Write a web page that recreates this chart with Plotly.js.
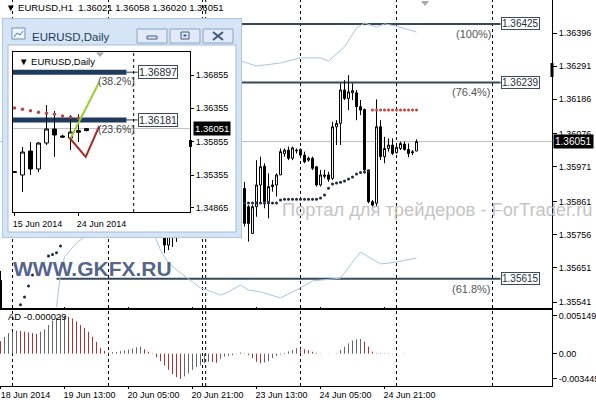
<!DOCTYPE html>
<html><head><meta charset="utf-8">
<script src="https://cdn.plot.ly/plotly-3.0.1.min.js"></script>
<style>html,body{margin:0;padding:0;background:#fff;}#chart{width:596px;height:400px;}</style>
</head><body><div id="chart"></div>
<script>
// ===== EURUSD H1 (bar index: 0 = 19 Jun 2014 00:00, one bar per hour, weekend skipped) =====
const h1Bar = [-3,38,39,40,41,58,59,60,61,62,63,64,65,66,67,68,69,70,71,72,73,74,75,76,77,78,79,80,81,82,83,84,85,86,87,88,89,90,91,92,93,94,95,96,97,98,99,100,101];
const h1Open  = [1.35610,1.35850,1.35722,1.35800,1.35760,1.35902,1.35844,1.35759,1.35844,1.35913,1.35973,1.35860,1.35908,1.35913,1.35945,1.36013,1.36024,1.35998,1.36024,1.36026,1.36008,1.35992,1.35998,1.35971,1.35913,1.35945,1.35945,1.35934,1.36098,1.36109,1.36215,1.36188,1.36206,1.36206,1.36162,1.36153,1.35961,1.35860,1.35855,1.36098,1.36003,1.36029,1.36040,1.36016,1.36029,1.36043,1.36026,1.36019,1.36021];
const h1High  = [1.35640,1.35900,1.35820,1.35880,1.35900,1.35923,1.35849,1.35849,1.35992,1.36003,1.35982,1.35950,1.35929,1.35950,1.36029,1.36029,1.36035,1.36035,1.36029,1.36029,1.36019,1.36003,1.36003,1.35973,1.35961,1.35961,1.35955,1.36114,1.36119,1.36236,1.36246,1.36262,1.36236,1.36215,1.36183,1.36156,1.35961,1.35865,1.36185,1.36119,1.36066,1.36061,1.36061,1.36040,1.36051,1.36051,1.36045,1.36024,1.36058];
const h1Low   = [1.35500,1.35697,1.35706,1.35716,1.35732,1.35781,1.35733,1.35759,1.35812,1.35855,1.35839,1.35807,1.35892,1.35876,1.35945,1.36003,1.35992,1.35992,1.36013,1.36003,1.35982,1.35987,1.35961,1.35908,1.35908,1.35934,1.35923,1.35929,1.36040,1.36040,1.36183,1.36151,1.36183,1.36119,1.36135,1.35950,1.35855,1.35844,1.35844,1.35992,1.35982,1.36019,1.36008,1.36013,1.36024,1.36022,1.36001,1.36008,1.36020];
const h1Close = [1.35515,1.35722,1.35800,1.35760,1.35880,1.35791,1.35791,1.35844,1.35913,1.35971,1.35860,1.35908,1.35913,1.35945,1.36019,1.36024,1.35998,1.36031,1.36022,1.36008,1.35987,1.35998,1.35966,1.35913,1.35945,1.35941,1.35931,1.36098,1.36109,1.36215,1.36188,1.36209,1.36213,1.36162,1.36151,1.35961,1.35860,1.35849,1.36098,1.36003,1.36029,1.36040,1.36013,1.36033,1.36045,1.36026,1.36013,1.36016,1.36051];

const sarUpBar = [2,3,4,5,9,10,11,12,58,59,60,61,62,63,64,65,66,67,68,69,70,71,72,73,74,75,76,77,78,79,80,81,82,83,84,85,86,87,88,89];
const sarUpVal = [1.35532,1.35557,1.35592,1.35627,1.35687,1.35692,1.35698,1.35719,1.35856,1.35856,1.35856,1.35856,1.35856,1.35856,1.35856,1.35856,1.35856,1.35865,1.35868,1.35868,1.35868,1.35868,1.35868,1.35868,1.35868,1.35868,1.35868,1.35872,1.35881,1.35903,1.35916,1.35919,1.35922,1.35926,1.35932,1.35938,1.35948,1.35953,1.35954,1.35956];
const sarDnBar = [90,91,92,93,94,95,96,97,98,99,100,101];
const sarDnVal = [1.36151,1.36151,1.36151,1.36151,1.36151,1.36151,1.36151,1.36151,1.36151,1.36151,1.36151,1.36151];

const bandLowBar = [11,12,13,16,19,21,null,35,37,39,42,45,47,50,52,54,57,59,62,67,72,75,82,87,92,96,101];
const bandLow    = [1.35525,1.35630,1.35684,1.35729,1.35757,1.35770,null,1.35770,1.35706,1.35665,1.35633,1.35605,1.35586,1.35573,1.35563,1.35573,1.35595,1.35579,1.35573,1.35554,1.35586,1.35608,1.35617,1.35700,1.35662,1.35668,1.35681];
const bandUpBar = [54,61,67,72,77,79,83,86,88,91,93,96,101];
const bandUp    = [1.36320,1.36291,1.36301,1.36317,1.36317,1.36307,1.36352,1.36412,1.36428,1.36415,1.36425,1.36418,1.36399];

const fibLevels = [1.36425,1.36239,1.35615];
const fibLabels = ['1.36425','1.36239','1.35615'];
const fibNames  = ['(100%)','(76.4%)','(61.8%)'];
const fibFromBar = 11, fibToBar = 122;

const daySepBar = [0,24,47.5,48.3,72,96,120];
const lastPrice = 1.36051;
const h1TickBar  = [-3,13,29,45,61,77,93];
const h1TickText = ['18 Jun 2014','19 Jun 13:00','20 Jun 05:00','20 Jun 21:00','23 Jun 13:00','24 Jun 05:00','24 Jun 21:00'];
const priceTicks = [1.36396,1.36291,1.36186,1.36076,1.35971,1.35861,1.35756,1.35651,1.35541];

// Accelerator/Decelerator (AD) histogram, bars from index -3
const adValues = [0.00170,0.00230,0.00280,0.00300,0.00315,0.00310,0.00300,0.00290,0.00280,0.00270,
 0.00300,0.00330,0.00390,0.00450,0.00490,0.00510,0.005149,0.00505,0.00480,0.00440,
 0.00390,0.00350,0.00300,0.00230,0.00160,0.00080,0.00040,0.00015,0.00020,0.00025,
 0.00035,0.00045,0.00055,0.00070,0.00085,0.00095,0.00060,0.00025,-0.00005,-0.00050,
 -0.00100,-0.00160,-0.00220,-0.00280,-0.00320,-0.003445,-0.00310,-0.00270,-0.00220,-0.00180,
 -0.00160,-0.00130,-0.00110,-0.00115,-0.00125,-0.00070,-0.00040,-0.00030,-0.00020,-0.00005,
 0.00015,0.00005,-0.00020,-0.00060,-0.00110,-0.00130,-0.00120,-0.00100,-0.00060,-0.00030,
 -0.00010,0.00010,0.00030,0.00050,0.00076,0.00072,0.00060,0.00048,0.00027,0.00008,
 0.00004,0.00002,0.00003,0.00001,0.00005,0.00050,0.00095,0.00140,0.00177,0.00196,
 0.00200,0.00164,0.00096,0.00027,0.00005,0.00008,0.00004,0.00006,0.00003,0.00005,
 0.00002,0.00004];
const adFirstBar = -3;
const adTicks = [0.005149,0,-0.003445];
const adTickText = ['0.005149','0.00','-0.003445'];

// ===== EURUSD Daily inset (bar 0 = 15 Jun 2014) =====
const dBar   = [0,1,2,3,4,5,6,7,8,9];
const dOpen  = [1.35405,1.35355,1.35715,1.35445,1.35835,1.36045,1.35940,1.35910,1.35995,1.36021];
const dHigh  = [1.35415,1.35775,1.35850,1.35850,1.36405,1.36315,1.35960,1.36255,1.36265,1.36058];
const dLow   = [1.35390,1.35100,1.35355,1.35400,1.35805,1.35625,1.35910,1.35730,1.35850,1.36010];
const dClose = [1.35395,1.35700,1.35445,1.35835,1.36045,1.35955,1.35925,1.36000,1.36021,1.36051];
const dSarBar = [0,1,2,3,4,5,6,7,8];
const dSarVal = [1.36360,1.36340,1.36320,1.36295,1.36280,1.36265,1.36240,1.36220,1.36205];
const dFibLevels = [1.36897,1.36181];
const dFibLabels = ['1.36897','1.36181'];
const dFibNames  = ['(38.2%)','(23.6%)'];
const dFibFromBar = -3, dFibToBar = 14;
const dGreenBar = [6.9,10.6], dGreenVal = [1.35880,1.36750];
const dRedBar = [6.9,8.9,10.6], dRedVal = [1.35910,1.35625,1.36090];
const dSepBar = [14.9];
const dTickBar = [0,8], dTickText = ['15 Jun 2014','24 Jun 2014'];
const dPriceTicks = [1.36855,1.36355,1.35855,1.35355,1.34865];

// ===== layout geometry =====
const PW = 552, PH = 386;
const px = x => x / PW, py = y => (PH - y) / PH;
const F = 'Liberation Sans, Arial, sans-serif';
const mainXRange = [-3.125, 134.875];
const mainYRange = [1.35522, 1.36501];
const adRange = [-0.00441, 0.00596];
const dXRange = [-0.1875, 21.9375];
const dYRange = [1.34800, 1.37200];

// AD histogram as 1px sticks: grey when rising, red when falling
function adSticks(rising) {
  const x = [], y = [];
  adValues.forEach((v, k) => {
    const up = k > 0 && v > adValues[k-1];
    if (up === rising) { x.push(adFirstBar + k, adFirstBar + k, null); y.push(0, v, null); }
  });
  return {x, y};
}
const adUp = adSticks(true), adDn = adSticks(false);

const traces = [
  {type:'candlestick', x:h1Bar, open:h1Open, high:h1High, low:h1Low, close:h1Close, xaxis:'x', yaxis:'y',
   increasing:{line:{color:'#000',width:1}, fillcolor:'#fff'}, decreasing:{line:{color:'#000',width:1}, fillcolor:'#000'},
   whiskerwidth:0, hoverinfo:'skip', showlegend:false},
  {type:'scatter', mode:'lines', x:bandLowBar, y:bandLow, line:{color:'#a9c6de', width:1}, connectgaps:false, xaxis:'x', yaxis:'y', hoverinfo:'skip', showlegend:false},
  {type:'scatter', mode:'lines', x:bandUpBar, y:bandUp, line:{color:'#a9c6de', width:1}, xaxis:'x', yaxis:'y', hoverinfo:'skip', showlegend:false},
  {type:'scatter', mode:'markers', x:sarUpBar, y:sarUpVal, marker:{color:'#1c2740', size:3}, xaxis:'x', yaxis:'y', hoverinfo:'skip', showlegend:false},
  {type:'scatter', mode:'markers', x:sarDnBar, y:sarDnVal, marker:{color:'#d23a3a', size:3}, xaxis:'x', yaxis:'y', hoverinfo:'skip', showlegend:false},
  {type:'scatter', mode:'lines', x:adUp.x, y:adUp.y, line:{color:'#5f6670', width:1}, connectgaps:false, xaxis:'x', yaxis:'y4', hoverinfo:'skip', showlegend:false},
  {type:'scatter', mode:'lines', x:adDn.x, y:adDn.y, line:{color:'#b23030', width:1}, connectgaps:false, xaxis:'x', yaxis:'y4', hoverinfo:'skip', showlegend:false},
  {type:'scatter', x:[null], y:[null], xaxis:'x2', yaxis:'y2', hoverinfo:'skip', showlegend:false},
  {type:'candlestick', x:dBar, open:dOpen, high:dHigh, low:dLow, close:dClose, xaxis:'x3', yaxis:'y3',
   increasing:{line:{color:'#000',width:1}, fillcolor:'#fff'}, decreasing:{line:{color:'#000',width:1}, fillcolor:'#000'},
   whiskerwidth:0, hoverinfo:'skip', showlegend:false},
  {type:'scatter', mode:'markers', x:dSarBar, y:dSarVal, marker:{color:'#b04848', size:3.5}, xaxis:'x3', yaxis:'y3', hoverinfo:'skip', showlegend:false},
  {type:'scatter', mode:'lines', x:dGreenBar, y:dGreenVal, line:{color:'#9acd32', width:2}, xaxis:'x3', yaxis:'y3', hoverinfo:'skip', showlegend:false},
  {type:'scatter', mode:'lines', x:dRedBar, y:dRedVal, line:{color:'#a52a2a', width:2}, xaxis:'x3', yaxis:'y3', hoverinfo:'skip', showlegend:false}
];

const shapes = [];
daySepBar.forEach(b => shapes.push({type:'line', xref:'x', yref:'paper', x0:b, x1:b, y0:0, y1:1, line:{color:'#000', width:1, dash:'3px,3px'}, layer:'below'}));
shapes.push({type:'line', xref:'x', yref:'y', x0:mainXRange[0], x1:mainXRange[1], y0:lastPrice, y1:lastPrice, line:{color:'#bdbdbd', width:1}, layer:'below'});
fibLevels.forEach(v => shapes.push({type:'line', xref:'x', yref:'y', x0:fibFromBar, x1:fibToBar, y0:v, y1:v, line:{color:'#33495a', width:2}, layer:'below'}));
shapes.push({type:'path', xref:'paper', yref:'paper', path:`M${px(421)},${py(1)} L${px(429)},${py(1)} L${px(425)},${py(6)} Z`, fillcolor:'#a8a8a8', line:{width:0}, layer:'above'});
shapes.push({type:'rect', xref:'paper', yref:'paper', x0:px(550.5), x1:px(553.5), y0:py(77), y1:py(63), fillcolor:'#000', line:{width:0}, layer:'above'});

// ---- daily window frame (x2/y2 are pixel coordinates of the window) ----
const win = [
  {type:'rect', x0:2, x1:242, y0:18, y1:238, fillcolor:'#d5e5f6', line:{color:'#8aa6c8', width:1}},
  {type:'rect', x0:8, x1:236, y0:45, y1:232, fillcolor:'#ffffff', line:{color:'#a4bbd4', width:1}},
  {type:'rect', x0:12, x1:25, y0:28, y1:39, fillcolor:'#f1f6fc', line:{color:'#6f8fb5', width:1}},
  {type:'path', path:'M14,37 L17,33 L20,35 L23,31', line:{color:'#3f74b0', width:1}},
  {type:'rect', x0:137, x1:167, y0:29, y1:43, fillcolor:'#e1ebf7', line:{color:'#8aa3c3', width:1}},
  {type:'rect', x0:170, x1:200, y0:29, y1:43, fillcolor:'#e1ebf7', line:{color:'#8aa3c3', width:1}},
  {type:'rect', x0:203, x1:233, y0:29, y1:43, fillcolor:'#e1ebf7', line:{color:'#8aa3c3', width:1}},
  {type:'rect', x0:147, x1:157, y0:36, y1:39, fillcolor:'rgba(0,0,0,0)', line:{color:'#3f5a80', width:1}},
  {type:'rect', x0:181, x1:189, y0:32, y1:39, fillcolor:'rgba(0,0,0,0)', line:{color:'#3f5a80', width:1}},
  {type:'rect', x0:183.5, x1:186.5, y0:34.5, y1:36.5, fillcolor:'#3f5a80', line:{width:0}},
  {type:'path', path:'M213,32 L223,40 M223,32 L213,40', line:{color:'#3f5a80', width:2}}
];
win.forEach(s => shapes.push(Object.assign({xref:'x2', yref:'y2', layer:'below'}, s)));
dFibLevels.forEach(v => shapes.push({type:'line', xref:'x3', yref:'y3', x0:dFibFromBar, x1:dFibToBar, y0:v, y1:v, line:{color:'#1e3a5c', width:5}, layer:'below'}));
dFibLevels.forEach(v => shapes.push({type:'line', xref:'x3', yref:'y3', x0:dFibToBar, x1:dFibToBar+1.4, y0:v, y1:v, line:{color:'#1e3a5c', width:1}, layer:'below'}));
shapes.push({type:'line', xref:'x3', yref:'y3', x0:dXRange[0], x1:dXRange[1], y0:lastPrice, y1:lastPrice, line:{color:'#bdbdbd', width:1}, layer:'below'});
dSepBar.forEach(b => shapes.push({type:'line', xref:'x3', yref:'y3 domain', x0:b, x1:b, y0:0, y1:1, line:{color:'#000', width:1, dash:'3px,3px'}, layer:'above'}));
shapes.push({type:'path', xref:'x2', yref:'y2', path:'M96,52.5 L104,52.5 L100,57 Z', fillcolor:'#a8a8a8', line:{width:0}, layer:'above'});
shapes.push({type:'rect', xref:'x2', yref:'y2', x0:189, x1:192, y0:140, y1:147, fillcolor:'#000', line:{width:0}, layer:'above'});

const ann = [];
ann.push({xref:'paper', yref:'paper', x:px(4), y:py(8), xanchor:'left', yanchor:'middle', showarrow:false,
  text:'▼ EURUSD,H1\u00a0\u00a01.36021 1.36058 1.36020 1.36051', font:{family:F, size:9.5, color:'#000'}});
ann.push({xref:'paper', yref:'paper', x:px(6), y:py(316), xanchor:'left', yanchor:'middle', showarrow:false,
  text:'AD -0.000029', font:{family:F, size:9.5, color:'#000'}});
fibLevels.forEach((v,i) => {
  ann.push({xref:'x', yref:'y', x:fibToBar, y:v, xanchor:'left', yanchor:'middle', showarrow:false, text:fibLabels[i],
    font:{family:F, size:10, color:'#1e2e3c'}, bgcolor:'#fff', bordercolor:'#3c4c5c', borderwidth:1, borderpad:0});
  ann.push({xref:'x', yref:'y', x:fibToBar-2, y:v, xanchor:'right', yanchor:'top', yshift:-2, showarrow:false, text:fibNames[i],
    font:{family:F, size:11, color:'#555'}});
});
ann.push({xref:'paper', yref:'y', x:1, y:lastPrice, xanchor:'left', yanchor:'middle', xshift:1, showarrow:false, text:'1.36051',
  font:{family:F, size:10, color:'#fff'}, bgcolor:'#000', borderpad:1});
ann.push({xref:'paper', yref:'paper', x:px(280), y:py(210), xanchor:'left', yanchor:'middle', showarrow:false,
  text:'Портал для трейдеров - ForTrader.ru', font:{family:F, size:18.3, color:'#c4c4c4'}});
ann.push({xref:'paper', yref:'paper', x:px(11), y:py(268), xanchor:'left', yanchor:'middle', showarrow:false,
  text:'<b>WWW.GKFX.RU</b>', font:{family:F, size:21, color:'rgba(52,72,120,0.85)'}});
ann.push({xref:'x2', yref:'y2', x:30, y:37, xanchor:'left', yanchor:'middle', showarrow:false, text:'EURUSD,Daily', font:{family:F, size:11.5, color:'#1e3a5a'}});
ann.push({xref:'x2', yref:'y2', x:17, y:61, xanchor:'left', yanchor:'middle', showarrow:false, text:'▼ EURUSD,Daily', font:{family:F, size:9.5, color:'#000'}});
dFibLevels.forEach((v,i) => {
  ann.push({xref:'x3', yref:'y3', x:dFibToBar+1.4, y:v, xanchor:'left', yanchor:'middle', showarrow:false, text:dFibLabels[i],
    font:{family:F, size:10.5, color:'#1e2e3c'}, bgcolor:'#fff', bordercolor:'#3c4c5c', borderwidth:1, borderpad:0});
  ann.push({xref:'x3', yref:'y3', x:dFibToBar+1.3, y:v, xanchor:'right', yanchor:'top', yshift:-1, showarrow:false, text:dFibNames[i],
    font:{family:F, size:10.5, color:'#444'}});
});
ann.push({xref:'x3 domain', yref:'y3', x:1, y:lastPrice, xanchor:'left', yanchor:'middle', xshift:3, showarrow:false, text:'1.36051',
  font:{family:F, size:9.5, color:'#fff'}, bgcolor:'#000', borderpad:1});

const axBase = {showgrid:false, zeroline:false, fixedrange:true};
const layout = {
  width:596, height:400, margin:{l:0, r:44, t:0, b:14},
  paper_bgcolor:'#fff', plot_bgcolor:'#fff', showlegend:false, dragmode:false,
  xaxis: Object.assign({}, axBase, {domain:[0,1], range:mainXRange, anchor:'y4', rangeslider:{visible:false},
    tickmode:'array', tickvals:h1TickBar, ticktext:h1TickText, ticks:'outside', ticklen:2, tickcolor:'#000',
    ticklabelshift:25, ticklabelstandoff:-2, tickfont:{family:F, size:9, color:'#000'}, showline:true, mirror:'all', linecolor:'#000', linewidth:1}),
  yaxis: Object.assign({}, axBase, {domain:[py(308),1], range:mainYRange, anchor:'x', side:'right',
    tickmode:'array', tickvals:priceTicks, ticktext:priceTicks.map(v=>v.toFixed(5)), ticks:'outside', ticklen:4, tickcolor:'#000',
    tickfont:{family:F, size:9, color:'#000'}, showline:true, mirror:true, linecolor:'#000', linewidth:1}),
  yaxis4: Object.assign({}, axBase, {domain:[0,py(310)], range:adRange, anchor:'x', side:'right',
    tickmode:'array', tickvals:adTicks, ticktext:adTickText, ticks:'outside', ticklen:4, tickcolor:'#000',
    tickfont:{family:F, size:9, color:'#000'}, showline:true, mirror:true, linecolor:'#000', linewidth:1}),
  xaxis2: Object.assign({}, axBase, {domain:[px(2),px(242)], range:[2,242], anchor:'y2', visible:false}),
  yaxis2: Object.assign({}, axBase, {domain:[py(238),py(18)], range:[238,18], anchor:'x2', visible:false}),
  xaxis3: Object.assign({}, axBase, {domain:[px(13),px(190)], range:dXRange, anchor:'y3', rangeslider:{visible:false},
    tickmode:'array', tickvals:dTickBar, ticktext:dTickText, ticks:'outside', ticklen:3, tickcolor:'#000',
    ticklabelshift:23, tickfont:{family:F, size:9, color:'#000'}, showline:true, mirror:true, linecolor:'#000', linewidth:1}),
  yaxis3: Object.assign({}, axBase, {domain:[py(212),py(52)], range:dYRange, anchor:'x3', side:'right',
    tickmode:'array', tickvals:dPriceTicks, ticktext:dPriceTicks.map(v=>v.toFixed(5)), ticks:'outside', ticklen:3, tickcolor:'#000',
    tickfont:{family:F, size:9, color:'#000'}, showline:true, mirror:true, linecolor:'#000', linewidth:1}),
  shapes: shapes,
  annotations: ann
};
Plotly.newPlot('chart', traces, layout, {staticPlot:true, displayModeBar:false});
</script></body></html>
